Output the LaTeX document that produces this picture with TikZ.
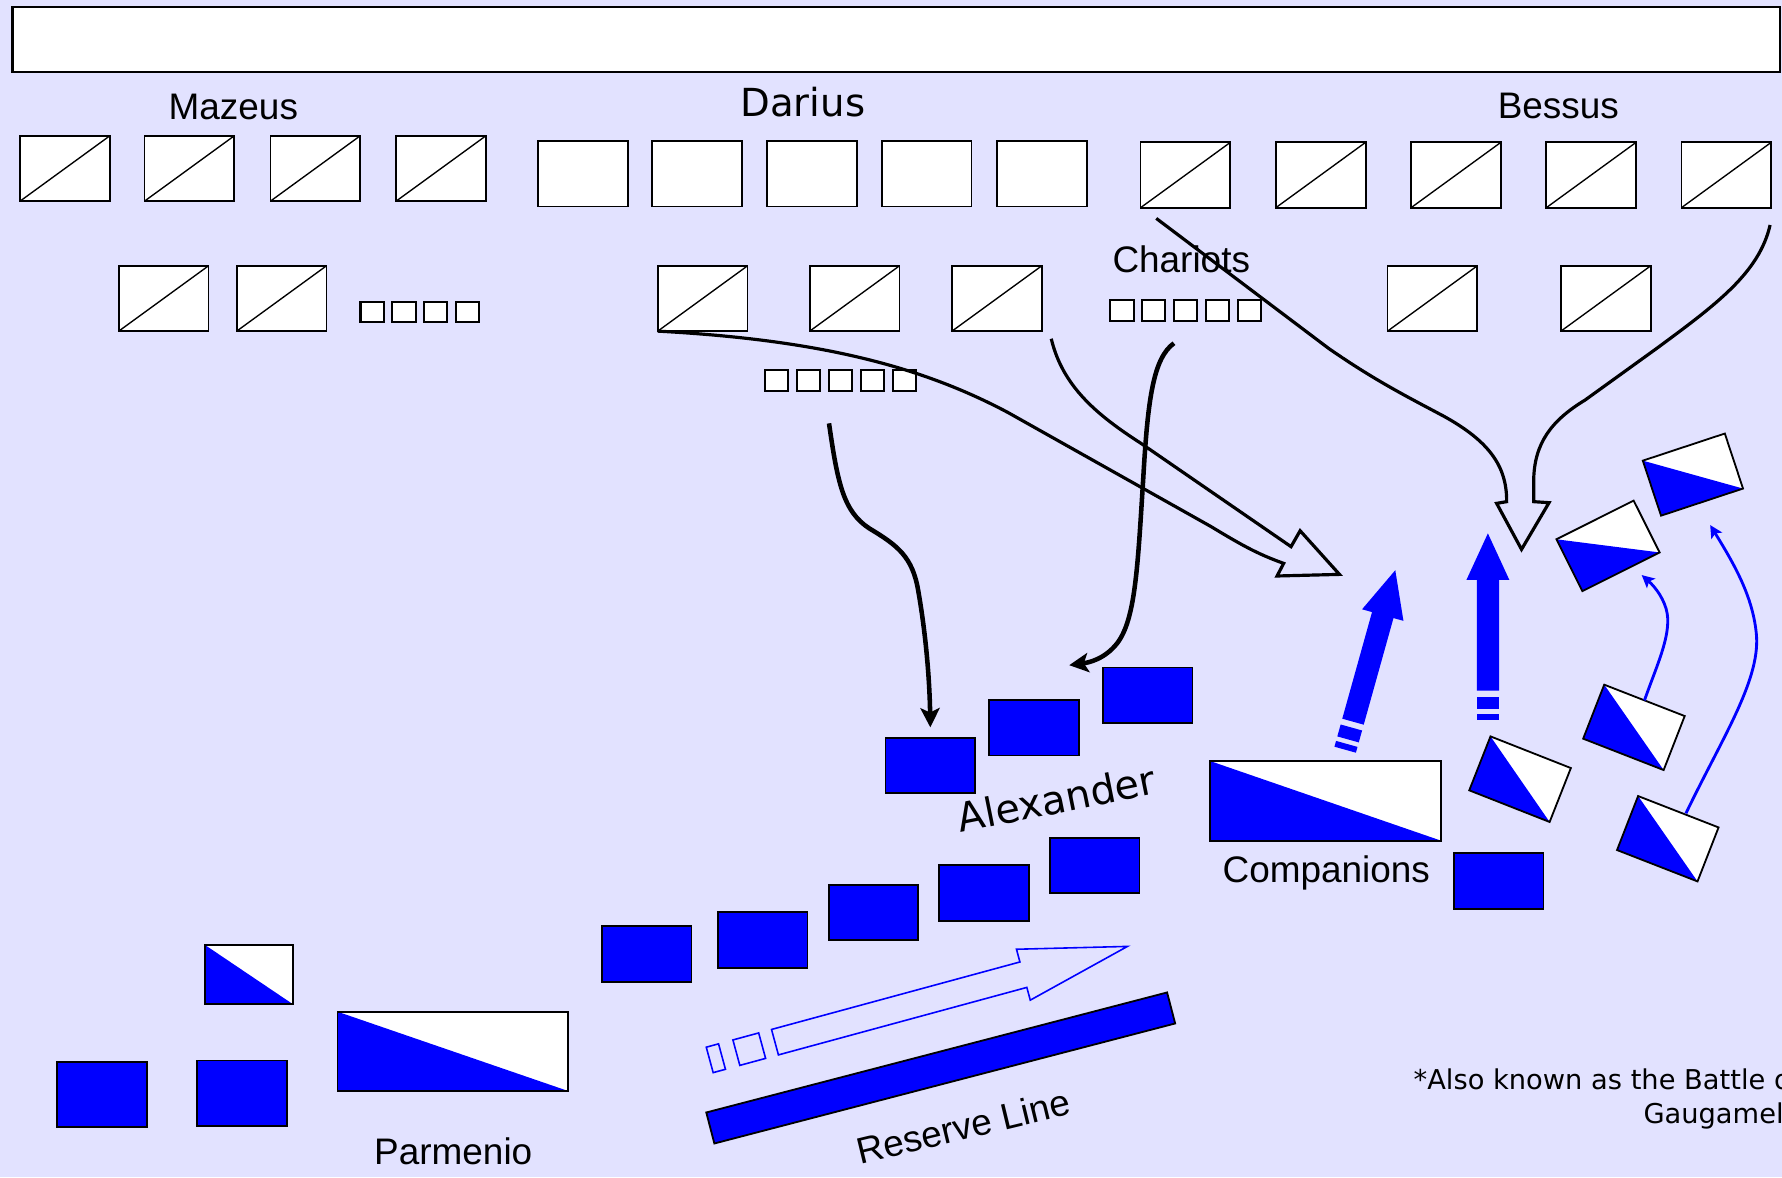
\documentclass[tikz,border=0pt]{standalone}
\usepackage{fontspec}
\setmainfont{Liberation Sans}
\newfontfamily\verdana{DejaVu Sans}
\usetikzlibrary{arrows.meta}

\tikzset{
    ubox/.style={draw, line width=0.8pt, inner sep=0pt, outer sep=0pt},
    footbox/.style={ubox, fill=white, minimum width=39.5pt, minimum height=28.75pt},
    cavbox/.style={footbox, path picture={\draw[line width=0.6pt] (path picture bounding box.south west) -- (path picture bounding box.north east);}},
    chbox/.style={ubox, line width=0.9pt, fill=white, minimum width=10.25pt, minimum height=9.1pt},
    bluebox/.style={ubox, fill=blue, minimum width=39.5pt, minimum height=24.5pt},
    txt/.style={inner sep=0pt, anchor=base, font=\fontsize{16.25pt}{19pt}\selectfont},
    vtxt/.style={inner sep=0pt, anchor=base, font=\verdana\fontsize{17pt}{20pt}\selectfont},
    note/.style={inner sep=0pt, anchor=base east, font=\verdana\fontsize{12pt}{14pt}\selectfont},
    march/.style={line width=1.4pt},
    charge/.style={line width=2pt, -{Stealth[length=8.5pt, width=8.5pt, inset=2pt]}},
    wheel/.style={blue, line width=1.25pt, -{Stealth[length=5.5pt, width=5.5pt, inset=1.2pt]}},
    pics/half/.style 2 args={code={
        \fill[white] (-#1,-#2) rectangle (#1,#2);
        \fill[blue] (-#1,-#2) -- (-#1,#2) -- (#1,#2) -- cycle;
        \draw[line width=0.8pt] (-#1,-#2) rectangle (#1,#2);
        \coordinate (-front) at (0,-#2);
        \coordinate (-rear) at (0,#2);
    }},
    pics/thrust/.style={code={
        \fill[blue] (-9.8,0) -- (-9.8,-97.4) -- (-18.9,-97.4) -- (0,-138.4) -- (18.9,-97.4) -- (9.8,-97.4) -- (9.8,0) -- cycle;
        \fill[blue] (-9.8,5.3) rectangle (9.8,16.2);
        \fill[blue] (-9.8,20.3) rectangle (9.8,25.6);
    }}
}

\begin{document}
\begin{tikzpicture}[x=0.5pt, y=-0.5pt]
    \useasboundingbox (0,0) rectangle (1568,1035.7);
    \clip (0,0) rectangle (1568,1035.7);
    \fill[color={rgb,255:red,226; green,226; blue,255}] (0,0) rectangle (1568,1035.7);
    \node[ubox, fill=white, line width=0.9pt, minimum width=777.5pt, minimum height=28.5pt] (banner) at (788.5,34.5) {};

    \node[txt] (mazeus) at (205.3,104.7) {Mazeus};
    \node[vtxt] (darius) at (706.4,102.7) {Darius};
    \node[txt] (bessus) at (1371.2,104.1) {Bessus};
    \node[txt] (chariots) at (1039.4,240) {Chariots};

    \node[cavbox] (m1) at (57.2,148.2) {};
    \node[cavbox] (m2) at (166.7,148.2) {};
    \node[cavbox] (m3) at (277.5,148.2) {};
    \node[cavbox] (m4) at (388.1,148.2) {};
    \node[footbox] (d1) at (512.8,152.9) {};
    \node[footbox] (d2) at (613.3,152.9) {};
    \node[footbox] (d3) at (714.4,152.9) {};
    \node[footbox] (d4) at (815.3,152.9) {};
    \node[footbox] (d5) at (916.6,152.9) {};
    \node[cavbox] (b1) at (1043.1,154) {};
    \node[cavbox] (b2) at (1162.1,154) {};
    \node[cavbox] (b3) at (1281.1,154) {};
    \node[cavbox] (b4) at (1400.1,154) {};
    \node[cavbox] (b5) at (1519,154) {};

    \node[cavbox] (mm1) at (144,262.6) {};
    \node[cavbox] (mm2) at (247.8,262.6) {};
    \node[cavbox] (dd1) at (618.3,262.6) {};
    \node[cavbox] (dd2) at (752,262.6) {};
    \node[cavbox] (dd3) at (877.2,262.6) {};
    \node[cavbox] (bb1) at (1260.4,262.6) {};
    \node[cavbox] (bb2) at (1413,262.6) {};

    \node[chbox] (ms1) at (327.45,274.5) {};
    \node[chbox] (ms2) at (355.45,274.5) {};
    \node[chbox] (ms3) at (383.45,274.5) {};
    \node[chbox] (ms4) at (411.45,274.5) {};
    \node[chbox] (cs1) at (987.15,273.1) {};
    \node[chbox] (cs2) at (1015.15,273.1) {};
    \node[chbox] (cs3) at (1043.15,273.1) {};
    \node[chbox] (cs4) at (1071.15,273.1) {};
    \node[chbox] (cs5) at (1099.15,273.1) {};
    \node[chbox] (ds1) at (683.25,335) {};
    \node[chbox] (ds2) at (711.45,335) {};
    \node[chbox] (ds3) at (739.65,335) {};
    \node[chbox] (ds4) at (767.85,335) {};
    \node[chbox] (ds5) at (796.05,335) {};

    \node[bluebox] (a1) at (818.6,673.5) {};
    \node[bluebox] (a2) at (909.7,640.3) {};
    \node[bluebox] (a3) at (1009.8,611.8) {};
    \node[bluebox] (l1) at (569,839.2) {};
    \node[bluebox] (l2) at (671,827.1) {};
    \node[bluebox] (l3) at (768.6,802.9) {};
    \node[bluebox] (l4) at (865.9,785.8) {};
    \node[bluebox] (l5) at (963.2,761.5) {};
    \node[bluebox] (c1) at (1318.7,775.2) {};
    \node[bluebox, minimum height=28.75pt] (p1) at (89.9,963) {};
    \node[bluebox, minimum height=28.75pt] (p2) at (212.9,961.8) {};

    \pic (comp) at (1166.5,704.7) {half={101.5}{35}};
    \pic (thes) at (398.5,925.1) {half={101.5}{34.9}};
    \pic (ph) at (219,857.5) {half={38.6}{26}};
    \pic (R1) [rotate=-21.5] at (1337.5,685.6) {half={38}{25.5}};
    \pic (R2) [rotate=-21.3] at (1437.7,640) {half={38}{25.5}};
    \pic (R3) [rotate=-21.3] at (1467.5,738) {half={38}{25.5}};
    \pic (R4) [rotate=26.6] at (1414.9,480.3) {half={38}{25.5}};
    \pic (R5) [rotate=18.3] at (1489.6,417.6) {half={38}{25.5}};

    \node[ubox, fill=blue, minimum width=209.5pt, minimum height=14.1pt, rotate=14.6] (reserve) at (827.75,939.7) {};
    \begin{scope}[shift={(681.9,917)}, rotate=15.2, draw=blue, fill=white, line width=0.7pt]
        \draw (0,-11.6) -- (226.5,-11.6) -- (226.5,-23.2) -- (321.4,0) -- (226.5,23.2) -- (226.5,11.6) -- (0,11.6) -- cycle;
        \draw (-35.2,-11.6) rectangle (-11.7,11.6);
        \draw (-59.5,-11.6) rectangle (-48.3,11.6);
    \end{scope}

    \pic (push) [rotate=-15.6] at (1190.5,635) {thrust};
    \pic (rise) at (1309.2,607.7) {thrust};

    \node[vtxt, font=\verdana\fontsize{17.5pt}{20pt}\selectfont, rotate=11.4] (alexander) at (932,715.4) {Alexander};
    \node[txt] (companions) at (1167,776.4) {Companions};
    \node[txt] (parmenio) at (398.8,1025) {Parmenio};
    \node[txt, rotate=13.6] (reservetxt) at (850.6,1002.4) {Reserve Line};
    \node[note] (note1) at (1584.5,959) {*Also known as the Battle of};
    \node[note] (note2) at (1584.5,988.4) {Gaugamela};

    \draw[march] (dd1.south west) .. controls (720,299) and (810,322) .. (887,363) -- (1065,463) .. controls (1090,478) and (1105,487) .. (1129.5,495.7) -- (1123.7,506.8) -- (1178.6,505.4) -- (1144,467) -- (1136,481) -- (1003.8,390) .. controls (965,365) and (935,340) .. ([shift={(4.15pt,-3.35pt)}]dd3.south east);
    \draw[march] ([shift={(6.9pt,-4.7pt)}]b1.south west) -- (1169,306.5) .. controls (1210,335) and (1240,350) .. (1270,366) .. controls (1310,388) and (1326,410) .. (1325.7,441.4) -- (1316.9,442.9) -- (1338.8,483.4) -- (1363,442.3) -- (1349.5,441.4) -- (1349.5,422.4) .. controls (1350,390) and (1365,370) .. (1394.7,352) -- (1457.8,306.5) .. controls (1510,268) and (1548,240) .. ([shift={(-0.5pt,-7.6pt)}]b5.south east);
    \draw[charge] ([shift={(-5.1pt,-14.2pt)}]ds3.south) .. controls (737,425) and (742,450) .. (765,465) .. controls (790,480) and (803,490) .. (808,520) .. controls (815,560) and (818,600) .. ([yshift=4.5pt]a1.north);
    \draw[charge] ([shift={(-5.1pt,-9.9pt)}]cs3.south) .. controls (1015,315) and (1010,350) .. (1006,420) .. controls (1001,500) and (999,545) .. (983,566) .. controls (972,580) and (958,583) .. ([shift={(-14.75pt,1pt)}]a3.north west);
    \draw[wheel] (R2-front) .. controls (1458,585) and (1470,560) .. (1467,540) .. controls (1465,528) and (1457,517) .. ([shift={(9.1pt,-1.45pt)}]R4-rear);
    \draw[wheel] ([shift={(3.35pt,-0.7pt)}]R3-front) .. controls (1515,650) and (1548,600) .. (1545.6,560) .. controls (1543,525) and (1525,495) .. ([shift={(3.6pt,-10.1pt)}]R5-rear);

\end{tikzpicture}
\end{document}
